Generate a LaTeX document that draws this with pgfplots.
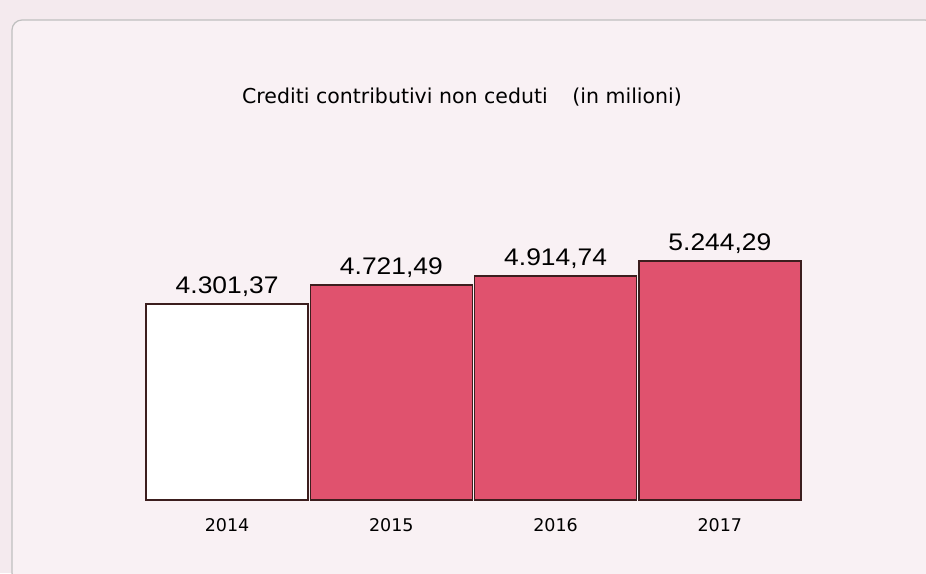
\documentclass[border=0pt]{standalone}
\usepackage{pgfplots}
\pgfplotsset{compat=1.18}
\usepackage{fontspec}
\setmainfont{Liberation Sans}
\newfontfamily\verd{DejaVu Sans}
\definecolor{pagebg}{RGB}{244,234,238}
\definecolor{cardbg}{RGB}{249,241,244}
\definecolor{barred}{RGB}{224,82,110}
\definecolor{baredge}{RGB}{60,30,30}

\begin{document}
\begin{tikzpicture}
% page and card, placed relative to the axis origin (axis box lower-left at 0,0)
\path[use as bounding box] (-145pt,-73pt) rectangle (781pt,500pt);
\fill[pagebg] (-145pt,-73pt) rectangle (781pt,500pt);
\filldraw[fill=cardbg, draw=black!25, line width=1.2pt, rounded corners=10pt] (-133pt,-83pt) rectangle (790pt,480pt);
\node[font=\verd\fontsize{20.5}{22}\selectfont, anchor=center] at (317pt,403pt) {Crediti contributivi non ceduti\hspace{1.2em}(in milioni)};

\begin{axis}[
    at={(0pt,0pt)}, anchor=south west,
    scale only axis,
    width=657pt, height=241.5pt,
    xmin=-0.5, xmax=3.5,
    ymin=0, ymax=5300,
    axis lines=none,
    ybar, bar width=162pt, bar shift=0pt,
    clip=false,
    point meta=explicit symbolic,
    nodes near coords,
    every node near coord/.append style={font=\fontsize{24}{26}\selectfont, xscale=1.1, anchor=south, yshift=3pt, text=black},
]
\addplot[fill=white, draw=baredge, line width=1.6pt] coordinates {
    (0,4301.37) [4.301,37]
};
\addplot[fill=barred, draw=baredge, line width=1.6pt] coordinates {
    (1,4721.49) [4.721,49]
    (2,4914.74) [4.914,74]
    (3,5244.29) [5.244,29]
};
\node[font=\verd\fontsize{17.5}{19}\selectfont] at (axis cs:0,0) [yshift=-25pt] {2014};
\node[font=\verd\fontsize{17.5}{19}\selectfont] at (axis cs:1,0) [yshift=-25pt] {2015};
\node[font=\verd\fontsize{17.5}{19}\selectfont] at (axis cs:2,0) [yshift=-25pt] {2016};
\node[font=\verd\fontsize{17.5}{19}\selectfont] at (axis cs:3,0) [yshift=-25pt] {2017};
\end{axis}
\end{tikzpicture}
\end{document}
